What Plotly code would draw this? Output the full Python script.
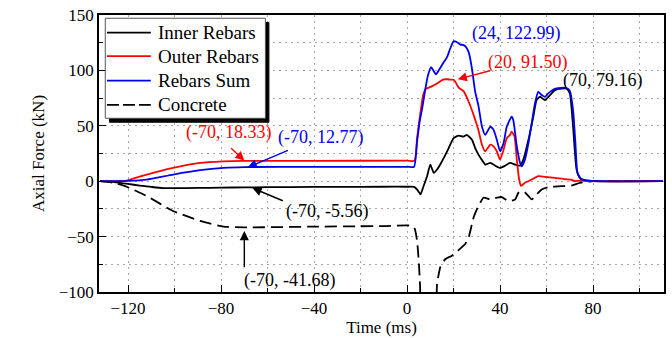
import plotly.graph_objects as go

# Inner rebars (kN)
inner_t = [-132, -126, -120, -115, -110, -105, -100, -90, -80, -70, -50, -30, -10, 0, 3,
           4.5, 5.8, 7, 8.6, 10, 11.5, 12.9, 14.5, 15.8, 17.9, 20, 22.2, 24.3, 25.7, 27.9,
           29.3, 30.7, 32.6, 33.6, 35.8, 37.9, 40, 42.2, 44.3, 46.5, 48.6, 50, 52.2, 54.3,
           55.7, 57.2, 59.3, 61.5, 63.6, 66.4, 68.6, 70, 71.4, 72.9, 74.3, 76.4, 80, 110]
inner_f = [0, -0.8, -2.4, -4, -5.2, -6.2, -6.3, -6.1, -5.8, -5.56, -5.3, -5.1, -5, -5, -5.2,
           -8, -11.9, -5, 4.5, 15, 7.5, 10.5, 16, 21, 29.9, 38.9, 41.2, 40.3, 41.8, 37.4,
           29.9, 24, 17.9, 15, 16.5, 14, 12, 14, 16.5, 15, 14, 19.4, 37.4, 58.3,
           73.2, 76.2, 73.2, 77.7, 82.2, 83.5, 83.5, 79.16, 49, 10.5, 3, 1, 0, 0]

# Outer rebars (kN)
outer_t = [-132, -126, -120.6, -112, -100.6, -89, -79, -70, -40, 0, 3.2, 4.3, 5.8, 6.9, 7.9,
           10, 12.2, 14.3, 15.8, 17.2, 18.5, 20, 20.8, 22.2, 24.3, 26.5, 28.6, 30.7, 32.2,
           33.6, 35.8, 37.2, 38.6, 40, 41.5, 42.9, 44.3, 45, 46.2, 47.2, 48.2, 49, 50.7,
           53.6, 56.4, 59.3, 63.6, 67.9, 70.5, 72.2, 74, 78, 110]
outer_f = [0, 0.1, 0.6, 6, 12, 16.5, 17.9, 18.33, 18.4, 18.5, 18.5, 38.9, 62.7, 77.7, 83,
           85.1, 87.2, 90.2, 91.8, 92, 91.7, 91.5, 89.5, 84.5, 81.3, 71.7, 59.8, 46, 32.9,
           26.9, 32.9, 31.4, 26.9, 19.4, 28.4, 38.9, 41.8, 44.8, 40.3, 19.4, 1.5, -4.2, -1.5,
           1.5, 4.5, 3.9, 3, 1.8, 1.5, 0, 0.5, 0, 0]

# Sum of rebars (kN)
sum_t = [-132, -126, -120, -112, -100.6, -89, -79, -70, -40, 0, 3, 4.3, 5.5, 6.5, 7.9, 9,
         10.3, 11, 12.4, 13.6, 15.8, 17.2, 18.6, 20, 21.5, 22.9, 24, 25.2, 26.5, 27.9, 29.3,
         30.7, 32.2, 33.6, 35.8, 37.2, 38.6, 40, 41.5, 42.9, 45, 45.7, 47.2, 48.6, 49.3,
         50.7, 52.2, 53.6, 55, 56.4, 57.9, 59.3, 60.7, 62.9, 65, 68.6, 70, 71.4, 72.4, 73.3,
         75, 78, 82, 110]
sum_f = [0, 0, 0.3, 1.5, 6, 9.9, 12, 12.77, 12.9, 13, 13, 35.8, 55, 65.8, 83.7, 95.6,
         103, 101, 96.5, 100, 107.5, 112, 120, 126.3, 125.4, 123.3, 122.99, 121.5, 116.5,
         101.6, 80.6, 68, 49.3, 41.8, 49.3, 46.3, 37.4, 26.9, 34.4, 49.3, 58.3, 55, 31.4,
         16.5, 13.4, 19.4, 34.4, 52.3, 70.2, 80.6, 77.7, 76.2, 79.2, 82.8, 84, 84, 81.5,
         64.2, 34.4, 7.5, 1.5, 0.5, 0, 0]

# Concrete (kN)
conc_t = [-132, -126, -120.6, -112, -100.6, -89, -79, -70, -40, -10, 2.2, 3.3, 4.3, 5.1, 5.6,
          6.2, 12, 12.9, 14.3, 16.5, 19.3, 21.5, 25, 26.5, 28.6, 30.7, 32.9, 35.8, 38.6,
          40.7, 43.6, 46.5, 47.9, 50, 52.2, 53.6, 55.7, 57.9, 60.7, 66.4, 70.7, 74.3, 77.9,
          80, 110]
conc_f = [0, -1.5, -5, -13.4, -26.9, -35.8, -40.9, -41.68, -41, -40.5, -40.3, -43, -53.8,
          -74.6, -95, -115, -115, -92.6, -77.6, -70.2, -67.2, -63.3, -56.7, -50.7, -32.8,
          -22.4, -14.9, -16.4, -14.9, -14.3, -17.9, -16.4, -10.4, -8.9, -13.4, -16.4, -11.9,
          -7.4, -5.4, -4.5, -3.9, -1.5, -0.6, 0, 0]

series_names = ["Inner Rebars", "Outer Rebars", "Rebars Sum", "Concrete"]
series_colors = ["#000000", "#ff0000", "#0000ee", "#000000"]
series_dash = ["solid", "solid", "solid", "12px,6px"]

x_range = [-132.5, 110.5]
y_range = [-100, 150]

FONT = "Liberation Serif, Times New Roman, serif"
W, H = 672, 338
ML, MR, MT, MB = 99, 6, 14, 45
PW, PH = W - ML - MR, H - MT - MB
GRID = "#a8a8a8"


def px_x(p):
    return (p - ML) / PW


def px_y(p):
    return (H - MB - p) / PH


fig = go.Figure()
data = [(inner_t, inner_f), (outer_t, outer_f), (sum_t, sum_f), (conc_t, conc_f)]
# concrete first, then the rebar curves, with the sum on top
for i in [3, 0, 1, 2]:
    t, f = data[i]
    fig.add_trace(go.Scatter(
        x=t, y=f, mode="lines", name=series_names[i], showlegend=False,
        line=dict(color=series_colors[i], width=1.8, dash=series_dash[i],
                  shape="spline", smoothing=0.5),
    ))

axis_common = dict(
    showline=True, linecolor="black", linewidth=1.5, mirror=True,
    ticks="inside", ticklen=7, tickwidth=1.3, tickcolor="black",
    showgrid=True, gridcolor=GRID, gridwidth=1, griddash="2px,4px",
    zeroline=False,
    tickfont=dict(family=FONT, size=17, color="black"),
)

fig.update_xaxes(
    range=x_range, tick0=0, dtick=40,
    title=dict(text="Time (ms)", font=dict(family=FONT, size=17, color="black"), standoff=2),
    minor=dict(dtick=20, tick0=0, ticks="inside", ticklen=4, tickcolor="black",
               showgrid=True, gridcolor=GRID, griddash="2px,4px"),
    **axis_common,
)
fig.update_yaxes(
    range=y_range, tick0=0, dtick=50,
    title=dict(text="Axial Force (kN)", font=dict(family=FONT, size=17, color="black"), standoff=10),
    minor=dict(dtick=25, tick0=0, ticks="inside", ticklen=4, tickcolor="black",
               showgrid=True, gridcolor=GRID, griddash="2px,4px"),
    **axis_common,
)

# Legend box with drop shadow
shapes = [
    dict(type="rect", xref="paper", yref="paper", layer="above",
         x0=px_x(109.5), x1=px_x(269.5), y0=px_y(122), y1=px_y(21.5),
         fillcolor="black", line=dict(color="black", width=1)),
    dict(type="rect", xref="paper", yref="paper", layer="above",
         x0=px_x(105.3), x1=px_x(266), y0=px_y(118), y1=px_y(17.3),
         fillcolor="white", line=dict(color="#555555", width=1)),
]
legend_rows = [31.7, 55.5, 80, 104.5]
for i, yy in enumerate(legend_rows):
    shapes.append(dict(type="line", xref="paper", yref="paper", layer="above",
                       x0=px_x(107), x1=px_x(151), y0=px_y(yy), y1=px_y(yy),
                       line=dict(color=series_colors[i], width=1.8,
                                 dash="12px,4px" if i == 3 else "solid")))
fig.update_layout(shapes=shapes)

annotations = []
for i, yy in enumerate(legend_rows):
    annotations.append(dict(xref="paper", yref="paper", x=px_x(156), y=px_y(yy),
                            xanchor="left", yanchor="middle", showarrow=False,
                            text=series_names[i],
                            font=dict(family=FONT, size=19, color="black")))

# Value labels
labels = [
    ("(-70, 18.33)", -76.7, 43.6, "#ff0000"),
    ("(-70, 12.77)", -37.4, 39.2, "#0000ee"),
    ("(-70, -5.56)", -34.3, -27.2, "black"),
    ("(-70, -41.68)", -50.6, -89.9, "black"),
    ("(24, 122.99)", 47.0, 133.2, "#0000ee"),
    ("(20, 91.50)", 52.2, 107.3, "#ff0000"),
    ("(70, 79.16)", 84.3, 91.1, "black"),
]
for txt, lx, ly, c in labels:
    annotations.append(dict(x=lx, y=ly, text=txt, showarrow=False,
                            xanchor="center", yanchor="middle",
                            font=dict(family=FONT, size=18, color=c)))

# Pointer arrows: (tip x, tip y, tail x, tail y, colour)
arrows = [
    (-70, 18.6, -76.3, 31.1, "#ff0000"),
    (-68.5, 12.6, -50.6, 28.4, "#0000ee"),
    (-66.5, -6.2, -52.8, -18.2, "black"),
    (-70, -45.0, -70, -79.1, "black"),
    (21.8, 92.0, 36.3, 100.0, "#ff0000"),
]
for tx, ty, sx, sy, c in arrows:
    annotations.append(dict(x=tx, y=ty, ax=sx, ay=sy, axref="x", ayref="y",
                            text="", showarrow=True, arrowhead=2, arrowsize=1.3,
                            arrowwidth=1.4, arrowcolor=c, standoff=0, startstandoff=0))

fig.update_layout(
    annotations=annotations,
    width=W, height=H,
    margin=dict(l=ML, r=MR, t=MT, b=MB, pad=0),
    paper_bgcolor="white", plot_bgcolor="white",
    showlegend=False,
    font=dict(family=FONT, color="black"),
)

fig.write_html("out.html")
